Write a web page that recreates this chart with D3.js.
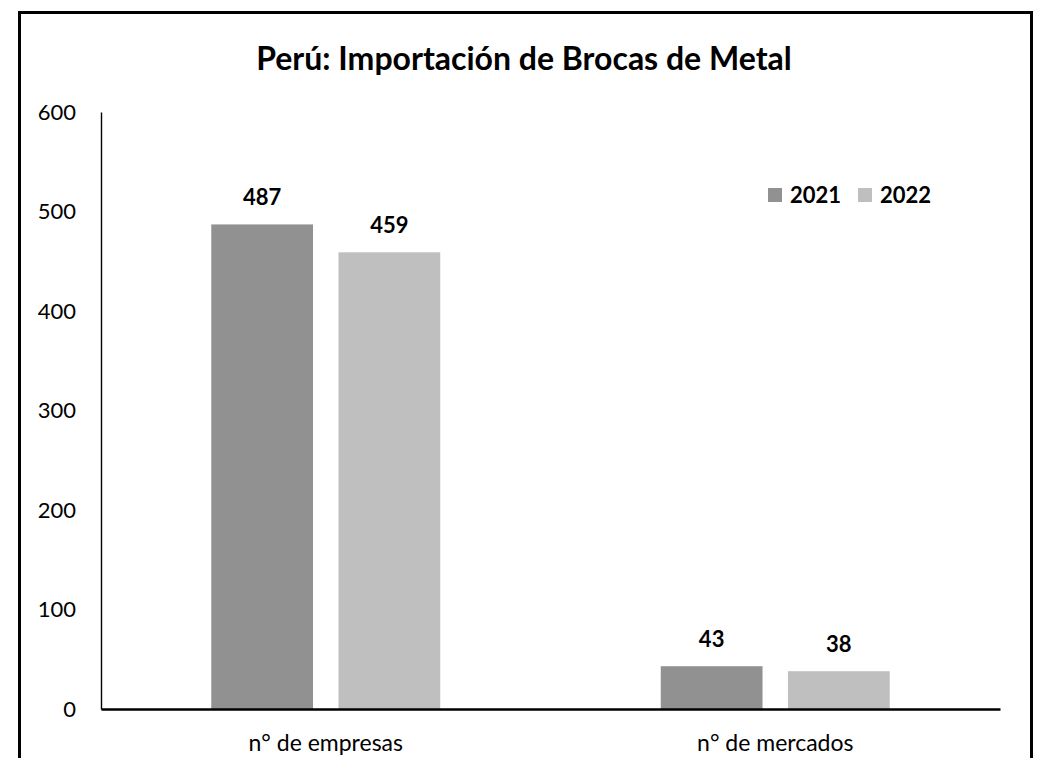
<!DOCTYPE html>
<html>
<head>
<meta charset="utf-8">
<script src="https://cdn.jsdelivr.net/npm/d3@7"></script>
<style>
  body { margin: 0; background: #fff; }
  text { font-family: Lato, "Open Sans", sans-serif; fill: #000; }
</style>
</head>
<body>
<svg id="chart" width="1043" height="758"></svg>
<script>
// data
const categories = ["n° de empresas", "n° de mercados"];
const years      = ["2021", "2022"];
const values2021 = [487, 43];
const values2022 = [459, 38];
const yTicks     = [0, 100, 200, 300, 400, 500, 600];
const title      = "Perú: Importación de Brocas de Metal";

const colors = { "2021": "#919191", "2022": "#bfbfbf" };

const rows = categories.map((c, i) => ({
  cat: c,
  vals: [{ year: "2021", v: values2021[i] }, { year: "2022", v: values2022[i] }]
}));

const svg = d3.select("#chart");

// outer frame (open at the bottom, runs off the page)
svg.append("rect")
  .attr("x", 19.5).attr("y", 12.5)
  .attr("width", 1012).attr("height", 800)
  .attr("fill", "none")
  .attr("stroke", "#000")
  .attr("stroke-width", 3);

// scales
const plot = { left: 101, right: 1000, top: 112, bottom: 709 };

const x0 = d3.scaleBand()
  .domain(categories)
  .range([plot.left, plot.right])
  .paddingInner(0.4906)
  .paddingOuter(0.2453);

const x1 = d3.scaleBand()
  .domain(years)
  .range([0, x0.bandwidth()])
  .paddingInner(0.2);

const y = d3.scaleLinear()
  .domain([0, 600])
  .range([plot.bottom, plot.top]);

// y axis
const yAxis = svg.append("g")
  .attr("transform", `translate(${plot.left},0)`)
  .call(d3.axisLeft(y).tickValues(yTicks).tickSize(0).tickPadding(25));
yAxis.select(".domain").attr("stroke", "#000").attr("stroke-width", 1.4);
yAxis.selectAll("text")
  .style("font-family", "Lato, sans-serif")
  .style("font-size", "22px")
  .attr("fill", "#000");

// bars
const groups = svg.selectAll("g.grp")
  .data(rows)
  .join("g")
  .attr("class", "grp")
  .attr("transform", d => `translate(${x0(d.cat)},0)`);

groups.selectAll("rect")
  .data(d => d.vals)
  .join("rect")
  .attr("x", d => x1(d.year))
  .attr("width", x1.bandwidth())
  .attr("y", d => y(d.v))
  .attr("height", d => y(0) - y(d.v))
  .attr("fill", d => colors[d.year]);

// value labels
groups.selectAll("text.val")
  .data(d => d.vals)
  .join("text")
  .attr("class", "val")
  .attr("x", d => x1(d.year) + x1.bandwidth() / 2)
  .attr("y", d => y(d.v) - 19)
  .attr("text-anchor", "middle")
  .style("font-size", "22px")
  .style("font-weight", "bold")
  .text(d => d.v);

// x axis
const xAxis = svg.append("g")
  .attr("transform", `translate(0,${plot.bottom})`)
  .call(d3.axisBottom(x0).tickSize(0).tickSizeOuter(0).tickPadding(26));
xAxis.select(".domain").attr("stroke", "#000").attr("stroke-width", 2.6);
xAxis.selectAll("text")
  .style("font-family", "Lato, sans-serif")
  .style("font-size", "23px")
  .attr("fill", "#000");

// title
svg.append("text")
  .attr("x", 524).attr("y", 70)
  .attr("text-anchor", "middle")
  .style("font-size", "32px")
  .style("font-weight", "bold")
  .text(title);

// legend
const legend = svg.append("g").attr("transform", "translate(768,188)");
const legX = [0, 90];
years.forEach((yr, i) => {
  legend.append("rect")
    .attr("x", legX[i]).attr("y", 0)
    .attr("width", 14).attr("height", 14)
    .attr("fill", colors[yr]);
  legend.append("text")
    .attr("x", legX[i] + 22).attr("y", 15)
    .style("font-size", "22px")
    .style("font-weight", "bold")
    .text(yr);
});
</script>
</body>
</html>
